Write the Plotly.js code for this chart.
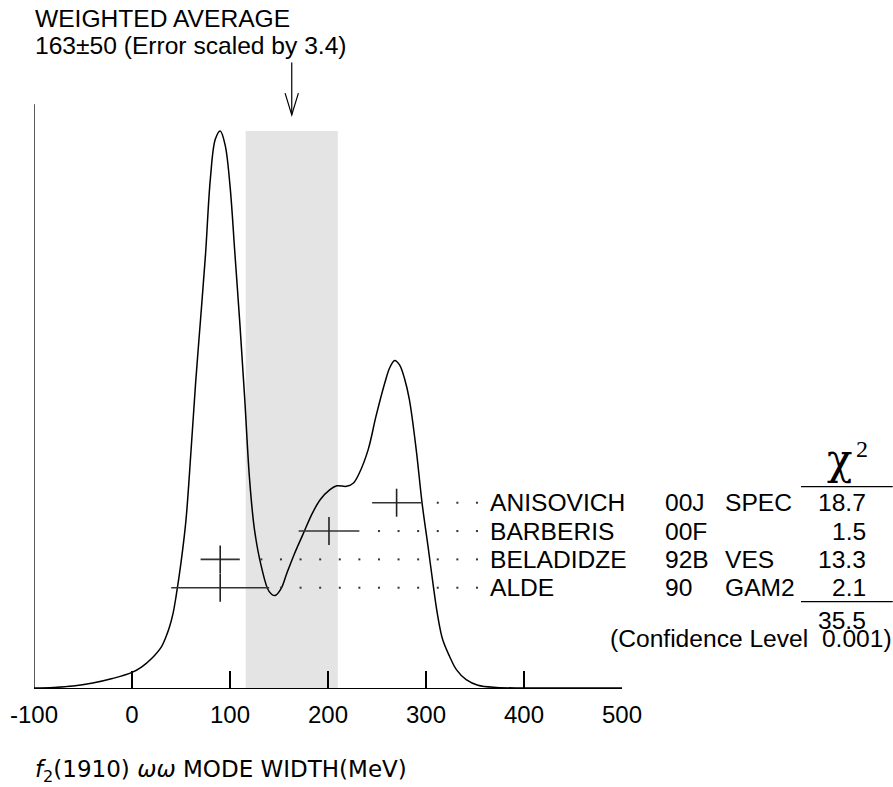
<!DOCTYPE html>
<html>
<head>
<meta charset="utf-8">
<script src="https://cdn.plot.ly/plotly-3.0.1.min.js"></script>
<style>
  html, body { margin: 0; padding: 0; background: #fff; }
  #chart { width: 893px; height: 787px; }
</style>
</head>
<body>
<div id="chart"></div>
<script>
// ---- Data ----
// Ideogram curve (x in MeV, y in relative height, main peak = 100)
const curveX = [-100, -80, -60, -40, -20, 0, 10, 20, 30, 34, 38, 42, 45, 50, 55, 60, 65, 70, 75, 80, 85, 90,
  95, 100, 105, 110, 115, 120, 125, 132, 140, 146, 152, 158, 166, 175, 183, 192, 202, 209, 219, 226,
  232, 241, 249, 258, 263, 268, 273, 278, 283, 290, 296, 302, 308, 312, 317, 324, 331, 341, 353, 372, 400, 500];
const curveY = [0, 0.1, 0.35, 0.9, 1.7, 2.8, 3.8, 5.3, 7.4, 8.9, 10.8, 13.5, 16.5, 22.5, 30, 42, 55, 66.3, 77.8, 91.5, 98.5, 100,
  97.5, 90.2, 78, 65.6, 52, 37.4, 28.4, 21.8, 17.3, 16.6, 17.8, 20.6, 24.2, 27.8, 31, 33.8, 35.6, 36.3, 36.2, 36.8,
  38.6, 42.8, 48.8, 54.8, 57.5, 58.8, 58, 55.6, 51.8, 42.8, 33.2, 25.5, 17.6, 12.9, 8.7, 5.7, 3.3, 1.5, 0.5, 0.1, 0, 0];

// Measurements (top to bottom as listed)
const names  = ['ANISOVICH', 'BARBERIS', 'BELADIDZE', 'ALDE'];
const refs   = ['00J', '00F', '92B', '90'];
const techs  = ['SPEC', '', 'VES', 'GAM2'];
const values = [270, 201, 90, 90];
const errors = [25, 31, 20, 50];
const chi2   = ['18.7', '1.5', '13.3', '2.1'];
const chi2Total = '35.5';
const confLevel = '0.001';

// Weighted average
const average = 163;
const bandLow = 116;
const bandHigh = 210;
const averageText = '163±50 (Error scaled by 3.4)';

// Axis ticks
const tickVals = [-100, 0, 100, 200, 300, 400, 500];

// ---- Build figure ----
const nRows = names.length;
const rowIdx = names.map((_, i) => nRows - 1 - i);

const FONT = 'Liberation Sans, Arial, Helvetica, sans-serif';
const FS = 24.6;

const curveTrace = {
  x: curveX, y: curveY, type: 'scatter', mode: 'lines',
  line: { color: '#000', width: 1.5, shape: 'spline', smoothing: 1 },
  hoverinfo: 'skip', xaxis: 'x', yaxis: 'y'
};

// leader dots
const dotX = [], dotY = [];
const dotStart = 132, dotStep = 20, dotEnd = 352;
values.forEach((v, i) => {
  for (let d = dotStart; d <= dotEnd; d += dotStep) {
    if (d > v + errors[i] + 2) { dotX.push(d); dotY.push(rowIdx[i]); }
  }
});
const dotTrace = {
  x: dotX, y: dotY, type: 'scatter', mode: 'markers',
  marker: { symbol: 'square', size: 2, color: '#333' },
  hoverinfo: 'skip', xaxis: 'x', yaxis: 'y2'
};

const errTrace = {
  x: values, y: rowIdx, type: 'scatter', mode: 'markers',
  marker: { symbol: 'line-ns', size: 20, line: { color: '#222', width: 1.6 } },
  error_x: { type: 'data', array: errors, visible: true, color: '#333', thickness: 1.6, width: 0 },
  hoverinfo: 'skip', xaxis: 'x', yaxis: 'y2'
};

const yTop = 104.8;   // top of vertical axis line
const annotations = [];
names.forEach((n, i) => {
  const base = { xref: 'paper', yref: 'y2', y: rowIdx[i], yanchor: 'middle', showarrow: false,
                 font: { family: FONT, size: FS, color: '#000' } };
  annotations.push(Object.assign({}, base, { x: 0.7721, xanchor: 'left', text: n }));
  annotations.push(Object.assign({}, base, { x: 1.0697, xanchor: 'left', text: refs[i] }));
  if (techs[i]) annotations.push(Object.assign({}, base, { x: 1.1718, xanchor: 'left', text: techs[i] }));
  annotations.push(Object.assign({}, base, { x: 1.4184, xanchor: 'right', text: chi2[i] }));
});
const pfont = { family: FONT, size: FS, color: '#000' };
annotations.push(
  { xref: 'paper', yref: 'paper', x: 1.4184, y: 0.1052, xanchor: 'right', yanchor: 'middle', showarrow: false, text: chi2Total, font: pfont },
  { xref: 'paper', yref: 'paper', x: 1.4626, y: 0.0770, xanchor: 'right', yanchor: 'middle', showarrow: false, text: '(Confidence Level  ' + confLevel + ')', font: pfont },
  { xref: 'paper', yref: 'paper', x: 1.3707, y: 0.3574, xanchor: 'center', yanchor: 'middle', showarrow: false, text: 'χ',
    font: { family: 'DejaVu Serif, serif', size: 42, color: '#000' } },
  { xref: 'paper', yref: 'paper', x: 1.4090, y: 0.3746, xanchor: 'center', yanchor: 'middle', showarrow: false, text: '2',
    font: { family: 'Liberation Serif, Times New Roman, serif', size: 24, color: '#000' } },
  { xref: 'paper', yref: 'paper', x: -0.0017, y: 1.0494, xanchor: 'left', yanchor: 'middle', showarrow: false, text: 'WEIGHTED AVERAGE', font: pfont },
  { xref: 'paper', yref: 'paper', x: -0.0017, y: 1.0078, xanchor: 'left', yanchor: 'middle', showarrow: false, text: averageText, font: pfont },
  { xref: 'paper', yref: 'paper', x: -0.0017, y: -0.1300, xanchor: 'left', yanchor: 'middle', showarrow: false,
    text: '<i>f</i><sub>2</sub>(1910) <i>ωω</i> MODE WIDTH(MeV)',
    font: { family: 'DejaVu Sans, sans-serif', size: 23, color: '#000' } }
);

const shapes = [
  { type: 'rect', xref: 'x', yref: 'y', x0: bandLow, x1: bandHigh, y0: 0, y1: 100,
    fillcolor: '#e4e4e4', line: { width: 0 }, layer: 'below' },
  { type: 'line', xref: 'x', yref: 'y', x0: -100, x1: -100, y0: 0, y1: yTop, line: { color: '#000', width: 1.3 } },
  { type: 'line', xref: 'x', yref: 'y', x0: average, x1: average, y0: 102.9, y1: 112.3, line: { color: '#000', width: 1.2 } },
  { type: 'path', xref: 'x', yref: 'y',
    path: `M ${average - 6.8},106.8 L ${average},102.9 L ${average + 6.8},106.8`, line: { color: '#000', width: 1.2 } },
  { type: 'line', xref: 'paper', yref: 'paper', x0: 1.3044, x1: 1.4604, y0: 0.3155, y1: 0.3155, line: { color: '#000', width: 1.2 } },
  { type: 'line', xref: 'paper', yref: 'paper', x0: 1.3044, x1: 1.4604, y0: 0.1353, y1: 0.1353, line: { color: '#000', width: 1.2 } }
];

const layout = {
  width: 893, height: 787,
  margin: { l: 34, r: 271, t: 50, b: 99, pad: 0 },
  paper_bgcolor: '#fff', plot_bgcolor: 'rgba(0,0,0,0)',
  showlegend: false,
  xaxis: {
    range: [-100, 500], tickvals: tickVals, ticktext: tickVals.map(String),
    ticks: 'inside', ticklen: 17, tickwidth: 1.3, tickcolor: '#000',
    showline: true, linecolor: '#000', linewidth: 1.3, showgrid: false, zeroline: false,
    tickfont: { family: FONT, size: 24, color: '#000' }, ticklabelstandoff: 5, fixedrange: true
  },
  yaxis: { range: [0, 114.54], visible: false, showgrid: false, zeroline: false, fixedrange: true },
  yaxis2: { range: [-3.54, 18.98], overlaying: 'y', visible: false, showgrid: false, zeroline: false, fixedrange: true },
  annotations: annotations,
  shapes: shapes
};

Plotly.newPlot('chart', [curveTrace, dotTrace, errTrace], layout, { staticPlot: true, displayModeBar: false });
</script>
</body>
</html>
